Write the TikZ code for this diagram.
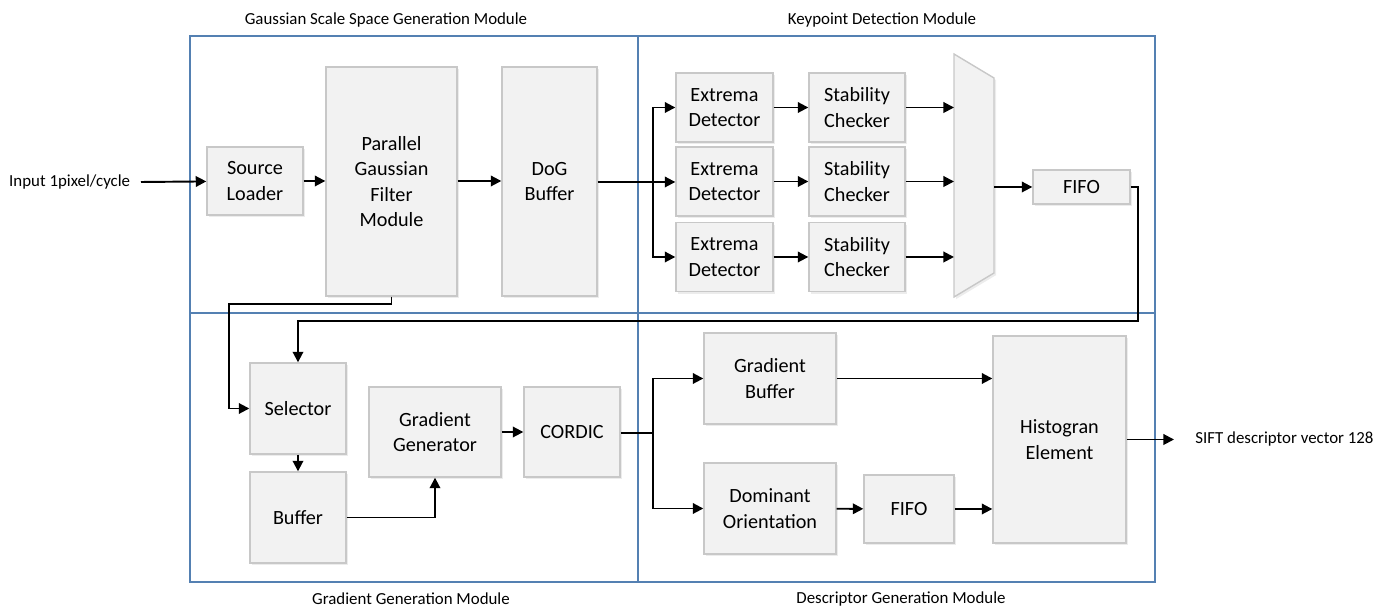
\documentclass[tikz,border=0pt]{standalone}
\usepackage{fontspec}
\setmainfont{Carlito}
\usepackage{tikz}
\usetikzlibrary{arrows.meta,shadows}
\definecolor{modblue}{RGB}{84,128,178}
\definecolor{blkfill}{RGB}{242,242,242}
\definecolor{blkline}{RGB}{200,200,200}

\begin{document}
\begin{tikzpicture}[
  x=0.02cm, y=-0.02cm,
  every node/.style={font=\fontsize{11.5}{14.5}\selectfont},
  block/.style={rectangle, draw=blkline, fill=blkfill, line width=0.8pt, align=center,
    inner sep=1pt, drop shadow={opacity=0.15, shadow xshift=1.2pt, shadow yshift=-1.2pt}},
  module/.style={draw=modblue, line width=0.7pt},
  modlabel/.style={font=\fontsize{9.6}{11}\selectfont},
  arr/.style={line width=1.1pt, -{Triangle[length=6pt,width=6pt]}},
  wire/.style={line width=1.1pt}
]
  \useasboundingbox (0,0) rectangle (1390,607);

  % module frames
  \draw[module] (190,36) rectangle (638,313);
  \draw[module] (638,36) rectangle (1155,313);
  \draw[module] (190,313) rectangle (638,582);
  \draw[module] (638,313) rectangle (1155,582);

  \node[modlabel] (gsslbl) at (386,20) {Gaussian Scale Space Generation Module};
  \node[modlabel] (kdlbl) at (882,20) {Keypoint Detection Module};
  \node[modlabel] (gglbl) at (411,599) {Gradient Generation Module};
  \node[modlabel] (dglbl) at (901,599) {Descriptor Generation Module};

  % Gaussian scale space
  \node[block, minimum width=1.92cm, minimum height=1.36cm] (src) at (255,181) {Source\\Loader};
  \node[block, minimum width=2.62cm, minimum height=4.58cm] (pgf) at (391.5,181.5) {Parallel\\Gaussian\\Filter\\Module};
  \node[block, minimum width=1.9cm, minimum height=4.58cm] (dog) at (549.5,181.5) {DoG\\Buffer};

  % keypoint detection
  \node[block, minimum width=1.94cm, minimum height=1.38cm] (ext1) at (724.5,107.5) {Extrema\\Detector};
  \node[block, minimum width=1.94cm, minimum height=1.38cm] (ext2) at (724.5,181.5) {Extrema\\Detector};
  \node[block, minimum width=1.94cm, minimum height=1.38cm] (ext3) at (724.5,257) {Extrema\\Detector};
  \node[block, minimum width=1.92cm, minimum height=1.38cm] (stab1) at (857,107.5) {Stability\\Checker};
  \node[block, minimum width=1.92cm, minimum height=1.38cm] (stab2) at (857,181.5) {Stability\\Checker};
  \node[block, minimum width=1.92cm, minimum height=1.38cm] (stab3) at (857,257) {Stability\\Checker};
  \draw[draw=blkline, fill=blkfill, line width=0.8pt,
    drop shadow={opacity=0.15, shadow xshift=1.2pt, shadow yshift=-1.2pt}]
    (954,54) -- (994,78) -- (994,273) -- (954,297) -- cycle;
  \coordinate (muxL) at (954,182);
  \coordinate (muxR) at (994,187);
  \node[block, minimum width=1.94cm, minimum height=0.68cm] (fifo1) at (1081.5,187) {FIFO};

  % gradient generation
  \node[block, minimum width=1.92cm, minimum height=1.82cm] (sel) at (298,408.5) {Selector};
  \node[block, minimum width=1.92cm, minimum height=1.82cm] (buf) at (298,517.5) {Buffer};
  \node[block, minimum width=2.64cm, minimum height=1.8cm] (ggen) at (435,432) {Gradient\\Generator};
  \node[block, minimum width=1.92cm, minimum height=1.8cm] (cordic) at (572,432) {CORDIC};

  % descriptor generation
  \node[block, minimum width=2.64cm, minimum height=1.82cm] (gbuf) at (770,378.5) {Gradient\\Buffer};
  \node[block, minimum width=2.64cm, minimum height=1.82cm] (dom) at (770,508.5) {Dominant\\Orientation};
  \node[block, minimum width=1.8cm, minimum height=1.36cm] (fifo2) at (909,509) {FIFO};
  \node[block, minimum width=2.66cm, minimum height=4.14cm] (hist) at (1059.5,439.5) {Histogran\\Element};

  \node[modlabel, anchor=east, inner xsep=6pt] (inlbl) at (141,182) {Input 1pixel/cycle};
  \node[modlabel, anchor=west, inner xsep=12pt] (outlbl) at (1174,439.5) {SIFT descriptor vector 128};

  % connectors
  \coordinate (kdsplit) at (653,182);
  \coordinate (ret) at (1138,321);
  \coordinate (fb) at (229,304);
  \coordinate (dgsplit) at (653,433);

  \draw[arr] (inlbl.east) -- (src);
  \draw[arr] (src) -- (src -| pgf.west);
  \draw[arr] (pgf.east |- src) -- (dog.west |- src);
  \draw[wire] (dog.east |- kdsplit) -- (kdsplit);
  \draw[arr] (kdsplit) |- (ext1);
  \draw[arr] (kdsplit) -- (ext2.west |- kdsplit);
  \draw[arr] (kdsplit) |- (ext3);
  \foreach \i in {1,2,3} {
    \draw[arr] (ext\i) -- (stab\i);
    \draw[arr] (stab\i) -- (stab\i -| muxL);
  }
  \draw[arr] (muxR) -- (fifo1);
  \draw[arr] (fifo1.east) -| (ret) -| (sel.north);
  \draw[arr] (pgf.south) |- (fb) |- (sel.west);
  \draw[arr] (sel) -- (buf);
  \draw[arr] (buf.east) -| (ggen.south);
  \draw[arr] (ggen) -- (cordic);
  \draw[wire] (cordic.east |- dgsplit) -- (dgsplit);
  \draw[arr] (dgsplit) |- (gbuf);
  \draw[arr] (dgsplit) |- (dom);
  \draw[arr] (gbuf) -- (gbuf -| hist.west);
  \draw[arr] (dom) -- (fifo2);
  \draw[arr] (fifo2) -- (fifo2 -| hist.west);
  \draw[arr] (hist.east |- outlbl) -- (outlbl);
\end{tikzpicture}
\end{document}
